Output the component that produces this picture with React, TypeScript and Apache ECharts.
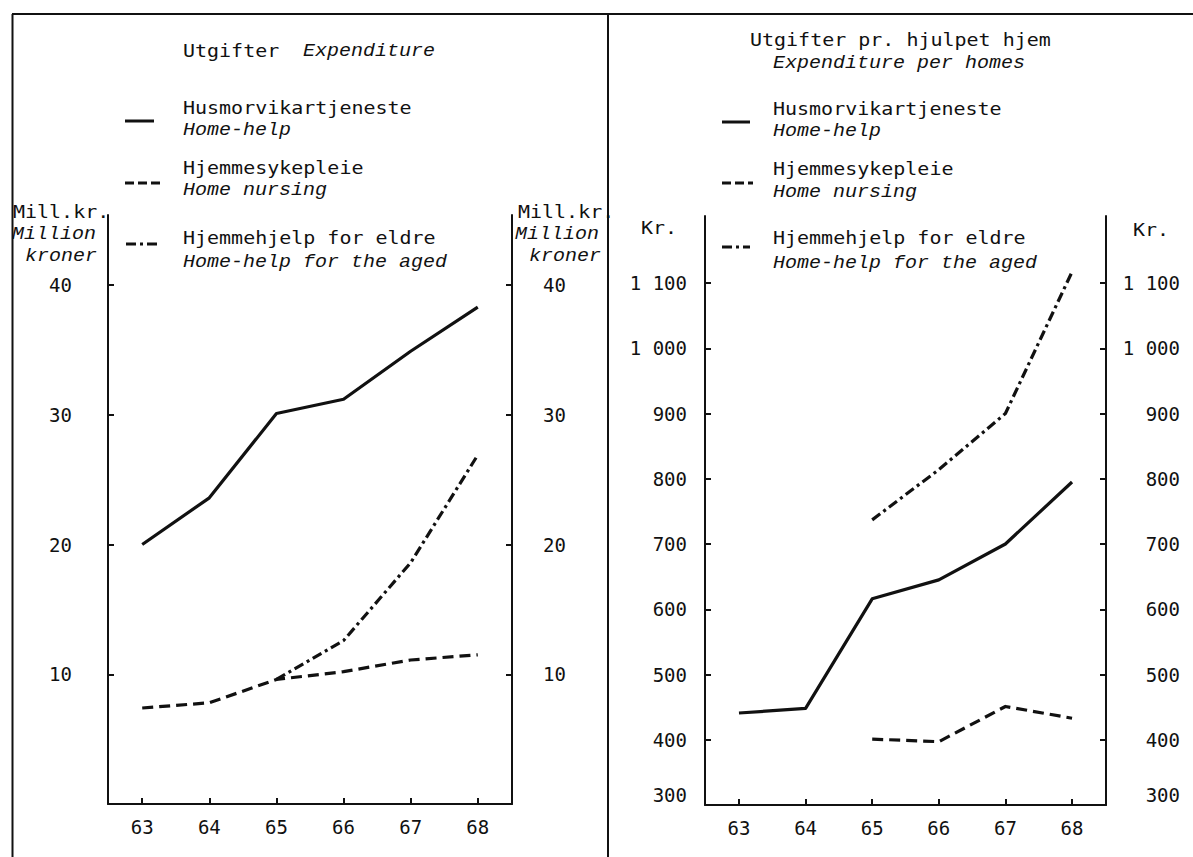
import React, { useEffect, useRef } from "react";
import * as echarts from "echarts";

// ---- data ----
const years = [63, 64, 65, 66, 67, 68];
const yearTicks = [63, 64, 65, 66, 67, 68];

// Left panel: Utgifter / Expenditure (Mill. kr.)
const expHomeHelp = [20.0, 23.6, 30.1, 31.2, 34.9, 38.3];
const expNursing = [7.4, 7.8, 9.6, 10.2, 11.1, 11.5];
const expAged: (number | null)[] = [null, null, 9.6, 12.6, 18.6, 26.9];
const expTicks = [10, 20, 30, 40];

// Right panel: Utgifter pr. hjulpet hjem / Expenditure per homes (Kr.)
const perHomeHelp = [441, 448, 616, 645, 700, 795];
const perNursing: (number | null)[] = [null, null, 401, 397, 451, 433];
const perAged: (number | null)[] = [null, null, 737, 814, 900, 1117];
const perTicks = [300, 400, 500, 600, 700, 800, 900, 1000, 1100];
const perTickMarks = [400, 500, 600, 700, 800, 900, 1000, 1100];

const seriesNamesNo = ["Husmorvikartjeneste", "Hjemmesykepleie", "Hjemmehjelp for eldre"];
const seriesNamesEn = ["Home-help", "Home nursing", "Home-help for the aged"];

const FONT_UP = '"DejaVu Sans Mono", monospace';
const FONT_IT = '"Liberation Mono", monospace';
const INK = "#111";

const DASH = [11, 6];
const DASHDOT = [10, 4, 3, 4];

function pairs(vals: (number | null)[]) {
  const out: number[][] = [];
  vals.forEach((v, i) => {
    if (v !== null && v !== undefined) out.push([years[i], v]);
  });
  return out;
}

function fmtKr(v: number) {
  const s = String(Math.round(v));
  return s.length > 3 ? s.slice(0, s.length - 3) + " " + s.slice(-3) : s;
}

// monospace text, stretched horizontally to the typewriter pitch of 12 px per character
function txt(text: string, x: number, y: number, italic: boolean) {
  const size = italic ? 18 : 17;
  const advance = size * 0.6;
  return {
    type: "text",
    x,
    y,
    scaleX: 12 / advance,
    scaleY: 1,
    silent: true,
    style: {
      text,
      fill: INK,
      fontSize: size,
      fontFamily: italic ? FONT_IT : FONT_UP,
      fontStyle: italic ? "italic" : "normal",
      textAlign: "left",
      textVerticalAlign: "middle",
    },
  };
}

function seg(x1: number, x2: number, y: number, dash: number[] | null, w = 3) {
  return {
    type: "line",
    silent: true,
    shape: { x1, y1: y, x2, y2: y },
    style: { stroke: INK, lineWidth: w, lineDash: dash || null, lineCap: "butt" },
  };
}

function vline(x: number, y1: number, y2: number) {
  return {
    type: "line",
    silent: true,
    shape: { x1: x, y1, x2: x, y2 },
    style: { stroke: INK, lineWidth: 2 },
  };
}

export default function App() {
  const ref = useRef<HTMLDivElement>(null);

  useEffect(() => {
    if (!ref.current) return;
    const chart = echarts.init(ref.current, null, { renderer: "svg" });

    const axisLine = { show: true, lineStyle: { color: INK, width: 2 } };
    const labelStyle = { color: INK, fontFamily: FONT_UP, fontSize: 19 };

    const xAxisBase = (gridIndex: number) => ({
      type: "value",
      gridIndex,
      min: 62.49,
      max: 68.51,
      axisLine,
      axisTick: {
        show: true,
        inside: true,
        length: 6,
        lineStyle: { color: INK, width: 2 },
        customValues: yearTicks,
      },
      axisLabel: { ...labelStyle, margin: 13, customValues: yearTicks, formatter: (v: number) => String(v) },
      splitLine: { show: false },
    });

    const yAxisBase = (
      gridIndex: number,
      position: string,
      min: number,
      max: number,
      ticks: number[],
      tickMarks: number[],
      margin: number,
      align: string,
      fmt: (v: number) => string
    ) => ({
      type: "value",
      gridIndex,
      position,
      min,
      max,
      axisLine: { ...axisLine, onZero: false },
      axisTick: {
        show: true,
        inside: true,
        length: 6,
        lineStyle: { color: INK, width: 2 },
        customValues: tickMarks,
      },
      axisLabel: {
        ...labelStyle,
        margin,
        align,
        customValues: ticks,
        formatter: fmt,
        rich: { lo: { ...labelStyle, padding: [0, 0, 20, 0] } },
      },
      splitLine: { show: false },
    });

    const fmtKrAxis = (v: number) => (v === 300 ? "{lo|300}" : fmtKr(v));

    const line = (data: number[][], xi: number, yi: number, type: any) => ({
      type: "line",
      xAxisIndex: xi,
      yAxisIndex: yi,
      data,
      symbol: "none",
      silent: true,
      lineStyle: { color: INK, width: 3.2, type, cap: "butt", join: "round" },
    });

    const graphics: any[] = [
      // frame
      { type: "line", silent: true, shape: { x1: 12, y1: 14, x2: 1193, y2: 14 }, style: { stroke: INK, lineWidth: 2 } },
      vline(12.5, 14, 857),
      vline(608, 14, 857),

      // left panel title
      txt("Utgifter", 183, 51, false),
      txt("Expenditure", 303, 51, true),
      // left legend
      seg(125, 154, 121, null),
      txt(seriesNamesNo[0], 183, 108, false),
      txt(seriesNamesEn[0], 183, 130, true),
      seg(125, 160, 183, [9, 4]),
      txt(seriesNamesNo[1], 183, 168, false),
      txt(seriesNamesEn[1], 183, 190, true),
      seg(126, 157, 244, [10, 4, 3, 4]),
      txt(seriesNamesNo[2], 183, 238, false),
      txt(seriesNamesEn[2], 183, 262, true),
      // left axis names
      txt("Mill.kr.", 13, 212, false),
      txt("Million", 12, 234, true),
      txt("kroner", 25, 256, true),
      txt("Mill.kr.", 518, 212, false),
      txt("Million", 515, 234, true),
      txt("kroner", 529, 256, true),

      // right panel title
      txt("Utgifter pr. hjulpet hjem", 750, 40, false),
      txt("Expenditure per homes", 773, 63, true),
      // right legend
      seg(722, 750, 122, null),
      txt(seriesNamesNo[0], 773, 109, false),
      txt(seriesNamesEn[0], 773, 131, true),
      seg(722, 753, 183, [9, 4]),
      txt(seriesNamesNo[1], 773, 169, false),
      txt(seriesNamesEn[1], 773, 192, true),
      seg(722, 750, 247, [10, 4, 3, 4]),
      txt(seriesNamesNo[2], 773, 238, false),
      txt(seriesNamesEn[2], 773, 263, true),
      // right axis names
      txt("Kr.", 641, 228, false),
      txt("Kr.", 1133, 230, false),
    ];

    const option: any = {
      animation: false,
      backgroundColor: "#ffffff",
      grid: [
        { left: 108, right: 1193 - 512, top: 215, bottom: 857 - 804, containLabel: false },
        { left: 705, right: 1193 - 1106, top: 216, bottom: 857 - 805, containLabel: false },
      ],
      xAxis: [xAxisBase(0), xAxisBase(1)],
      yAxis: [
        yAxisBase(0, "left", 0, 45.4, expTicks, expTicks, 36, "right", (v) => String(v)),
        yAxisBase(0, "right", 0, 45.4, expTicks, expTicks, 31, "left", (v) => String(v)),
        yAxisBase(1, "left", 300, 1202.7, perTicks, perTickMarks, 18, "right", fmtKrAxis),
        yAxisBase(1, "right", 300, 1202.7, perTicks, perTickMarks, 74, "right", fmtKrAxis),
      ],
      series: [
        line(pairs(expHomeHelp), 0, 0, "solid"),
        line(pairs(expNursing), 0, 0, DASH),
        line(pairs(expAged), 0, 0, DASHDOT),
        line(pairs(perHomeHelp), 1, 2, "solid"),
        line(pairs(perNursing), 1, 2, DASH),
        line(pairs(perAged), 1, 2, DASHDOT),
      ],
      graphic: { elements: graphics },
    };

    chart.setOption(option);
    return () => chart.dispose();
  }, []);

  return (
    <div
      ref={ref}
      style={{
        position: "fixed",
        left: 0,
        top: 0,
        width: 1193,
        height: 857,
        background: "#ffffff",
      }}
    />
  );
}
